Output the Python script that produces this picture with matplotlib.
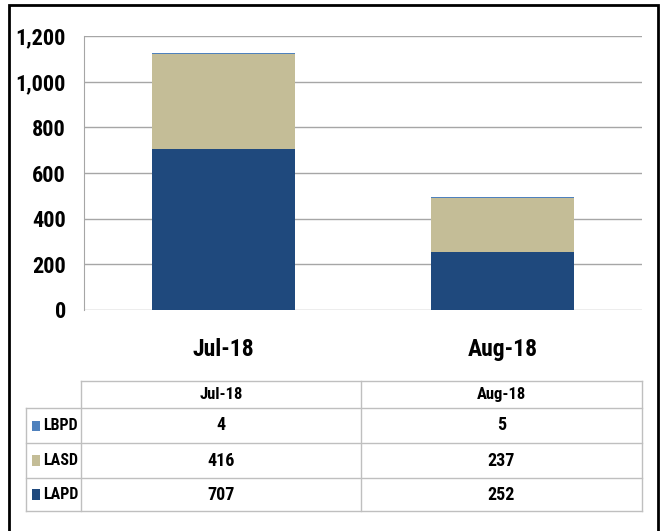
import matplotlib
matplotlib.use("Agg")
import matplotlib.pyplot as plt
from matplotlib.patches import Rectangle
from matplotlib.lines import Line2D
from matplotlib import font_manager

categories = ["Jul-18", "Aug-18"]
series_names = ["LBPD", "LASD", "LAPD"]
lapd = [707, 252]
lasd = [416, 237]
lbpd = [4, 5]
colors = {"LAPD": "#1F497D", "LASD": "#C4BD97", "LBPD": "#4F81BD"}
yticks = [0, 200, 400, 600, 800, 1000, 1200]

names = {f.name for f in font_manager.fontManager.ttflist}
cands = [n for n in ["Liberation Sans Narrow", "Roboto Condensed", "Open Sans Condensed"] if n in names]
fam = cands[:1] if cands else ["DejaVu Sans"]
plt.rcParams['font.family'] = fam + ["DejaVu Sans"]
plt.rcParams['font.stretch'] = "condensed"

W, H = 663, 531
fig = plt.figure(figsize=(W / 100, H / 100), dpi=100)

def fx(x): return x / W
def fy(y): return 1 - y / H

# outer frame (bottom edge lies below the image)
fig.add_artist(Rectangle((fx(9), fy(545)), fx(658) - fx(9), fy(5) - fy(545),
                         transform=fig.transFigure, fill=False, edgecolor="black", lw=2))

ax = fig.add_axes([fx(84), fy(310), fx(642) - fx(84), fy(36) - fy(310)])
x = range(len(categories))
ax.bar(x, lapd, width=0.515, color=colors["LAPD"], edgecolor="none")
ax.bar(x, lasd, width=0.515, bottom=lapd, color=colors["LASD"], edgecolor="none")
ax.bar(x, lbpd, width=0.515, bottom=[a + b for a, b in zip(lapd, lasd)],
       color=colors["LBPD"], edgecolor="none")
ax.set_xlim(-0.5, len(categories) - 0.5)
ax.set_ylim(0, 1200)
ax.set_yticks(yticks)
ax.set_yticklabels([f"{v:,}" for v in yticks], fontsize=16, fontweight="bold")
ax.set_xticks(list(x))
ax.set_xticklabels(categories, fontsize=17, fontweight="bold")
ax.tick_params(axis="y", length=0, pad=13)
ax.tick_params(axis="x", length=0, pad=20)
ax.grid(axis="y", color="#A6A6A6", lw=1)
ax.set_axisbelow(True)
for s in ["top", "right", "bottom"]:
    ax.spines[s].set_visible(False)
ax.spines["left"].set_color("#A6A6A6")

# data table
lc = "#BFBFBF"
x0, x1, x2, x3 = 26, 81, 361, 642
rows_y = [381, 408, 443, 478, 511]
def hline(xa, xb, y):
    fig.add_artist(Line2D([fx(xa), fx(xb)], [fy(y), fy(y)], transform=fig.transFigure, color=lc, lw=1))
def vline(x, ya, yb):
    fig.add_artist(Line2D([fx(x), fx(x)], [fy(ya), fy(yb)], transform=fig.transFigure, color=lc, lw=1))

hline(x1, x3, rows_y[0])
for y in rows_y[1:]:
    hline(x0, x3, y)
vline(x0, rows_y[1], rows_y[-1])
vline(x1, rows_y[0], rows_y[-1])
vline(x2, rows_y[0], rows_y[-1])
vline(x3, rows_y[0], rows_y[-1])

cx = [(x1 + x2) / 2, (x2 + x3) / 2]
for c, cat in zip(cx, categories):
    fig.text(fx(c), fy((rows_y[0] + rows_y[1]) / 2), cat, ha="center", va="center",
             fontsize=12, fontweight="bold")

table_vals = {"LBPD": lbpd, "LASD": lasd, "LAPD": lapd}
for i, name in enumerate(series_names):
    yc = (rows_y[i + 1] + rows_y[i + 2]) / 2
    fig.add_artist(Rectangle((fx(32), fy(yc + 5)), fx(8), fy(yc - 5) - fy(yc + 5),
                             transform=fig.transFigure, color=colors[name], lw=0))
    fig.text(fx(43), fy(yc), name, ha="left", va="center", fontsize=11.5, fontweight="bold")
    for c, v in zip(cx, table_vals[name]):
        fig.text(fx(c), fy(yc), f"{v:,}", ha="center", va="center", fontsize=13, fontweight="bold")

fig.savefig("out.png", dpi=100, facecolor="white")
